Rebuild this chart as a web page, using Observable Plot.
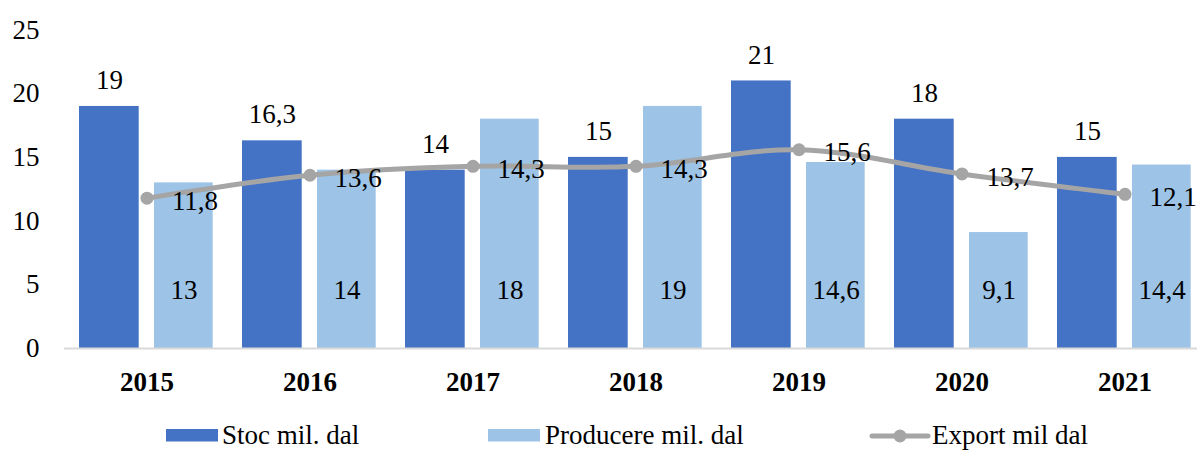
<!DOCTYPE html>
<html>
<head>
<meta charset="utf-8">
<script src="https://cdn.jsdelivr.net/npm/d3@7"></script>
<script src="https://cdn.jsdelivr.net/npm/@observablehq/plot@0.6"></script>
<style>
  html, body { margin: 0; padding: 0; background: #fff; }
  #chart { width: 1197px; height: 450px; overflow: hidden; font-family: "Liberation Serif", "Times New Roman", serif; }
  svg { display: block; }
  svg text { font-family: "Liberation Serif", "Times New Roman", serif !important; }
</style>
</head>
<body>
<div id="chart"></div>
<script>
const years = ["2015", "2016", "2017", "2018", "2019", "2020", "2021"];
const stoc = [19, 16.3, 14, 15, 21, 18, 15];
const producere = [13, 14, 18, 19, 14.6, 9.1, 14.4];
const exportVals = [11.8, 13.6, 14.3, 14.3, 15.6, 13.7, 12.1];
const yTicks = [0, 5, 10, 15, 20, 25];
const seriesNames = ["Stoc mil. dal", "Producere mil. dal", "Export mil dal"];
const colors = ["#4472c4", "#9dc3e6", "#a5a5a5"];

const fmt = d => String(d).replace(".", ",");
const stocData = years.map((y, i) => ({year: y, value: stoc[i]}));
const prodData = years.map((y, i) => ({year: y, value: producere[i]}));
const expData = years.map((y, i) => ({year: y, value: exportVals[i]}));

const font = '"Liberation Serif", "Times New Roman", serif';
const fs = 27;

const plot = Plot.plot({
  width: 1197,
  height: 415,
  marginLeft: 64,
  marginRight: 0,
  marginTop: 0,
  marginBottom: 67,
  style: {fontFamily: font, fontSize: fs + "px", color: "#000", background: "#fff"},
  x: {domain: years, range: [64, 1207.3], padding: 0},
  y: {domain: [0, 25], range: [348, 29.5]},
  marks: [
    Plot.barY(stocData, {x: "year", y: "value", fill: colors[0], insetLeft: 14, insetRight: 89.3}),
    Plot.barY(prodData, {x: "year", y: "value", fill: colors[1], insetLeft: 89, insetRight: 15.3}),
    Plot.ruleY([0], {stroke: "#d9d9d9", strokeWidth: 2}),
    Plot.axisY({ticks: yTicks, tickSize: 0, tickPadding: 25, label: null, fontSize: fs, fill: "#000"}),
    Plot.axisX({tickSize: 0, tickPadding: 23, label: null, fontSize: fs, fontWeight: "bold", fill: "#000"}),
    Plot.line(expData, {x: "year", y: "value", stroke: colors[2], strokeWidth: 5, curve: "catmull-rom"}),
    Plot.dot(expData, {x: "year", y: "value", r: 6.5, fill: colors[2]}),
    Plot.text(stocData, {x: "year", y: "value", text: d => fmt(d.value), dx: -37.6, dy: -26, fontSize: fs, fill: "#000"}),
    Plot.text(prodData, {x: "year", y: () => 4.6, text: d => fmt(d.value), dx: 37, fontSize: fs, fill: "#000"}),
    Plot.text(expData, {x: "year", y: "value", text: d => fmt(d.value), dx: 48, dy: 3, fontSize: fs, fill: "#000"})
  ]
});
document.getElementById("chart").appendChild(plot);

// Legend below the chart
const ns = "http://www.w3.org/2000/svg";
const leg = document.createElementNS(ns, "svg");
leg.setAttribute("width", 1197);
leg.setAttribute("height", 35);
leg.style.fontFamily = font;
leg.style.fontSize = fs + "px";
const items = [
  {type: "rect", x: 166, tx: 222},
  {type: "rect", x: 488, tx: 545},
  {type: "line", x: 872, tx: 932}
];
items.forEach((it, i) => {
  if (it.type === "rect") {
    const r = document.createElementNS(ns, "rect");
    r.setAttribute("x", it.x); r.setAttribute("y", 14);
    r.setAttribute("width", 52); r.setAttribute("height", 12.5);
    r.setAttribute("fill", colors[i]);
    leg.appendChild(r);
  } else {
    const l = document.createElementNS(ns, "line");
    l.setAttribute("x1", it.x); l.setAttribute("x2", it.x + 56);
    l.setAttribute("y1", 21); l.setAttribute("y2", 21);
    l.setAttribute("stroke", colors[i]); l.setAttribute("stroke-width", 5);
    l.setAttribute("stroke-linecap", "round");
    leg.appendChild(l);
    const c = document.createElementNS(ns, "circle");
    c.setAttribute("cx", it.x + 28); c.setAttribute("cy", 21); c.setAttribute("r", 6.5);
    c.setAttribute("fill", colors[i]);
    leg.appendChild(c);
  }
  const t = document.createElementNS(ns, "text");
  t.setAttribute("x", it.tx); t.setAttribute("y", 29);
  t.setAttribute("fill", "#000");
  t.textContent = seriesNames[i];
  leg.appendChild(t);
});
document.getElementById("chart").appendChild(leg);
</script>
</body>
</html>
